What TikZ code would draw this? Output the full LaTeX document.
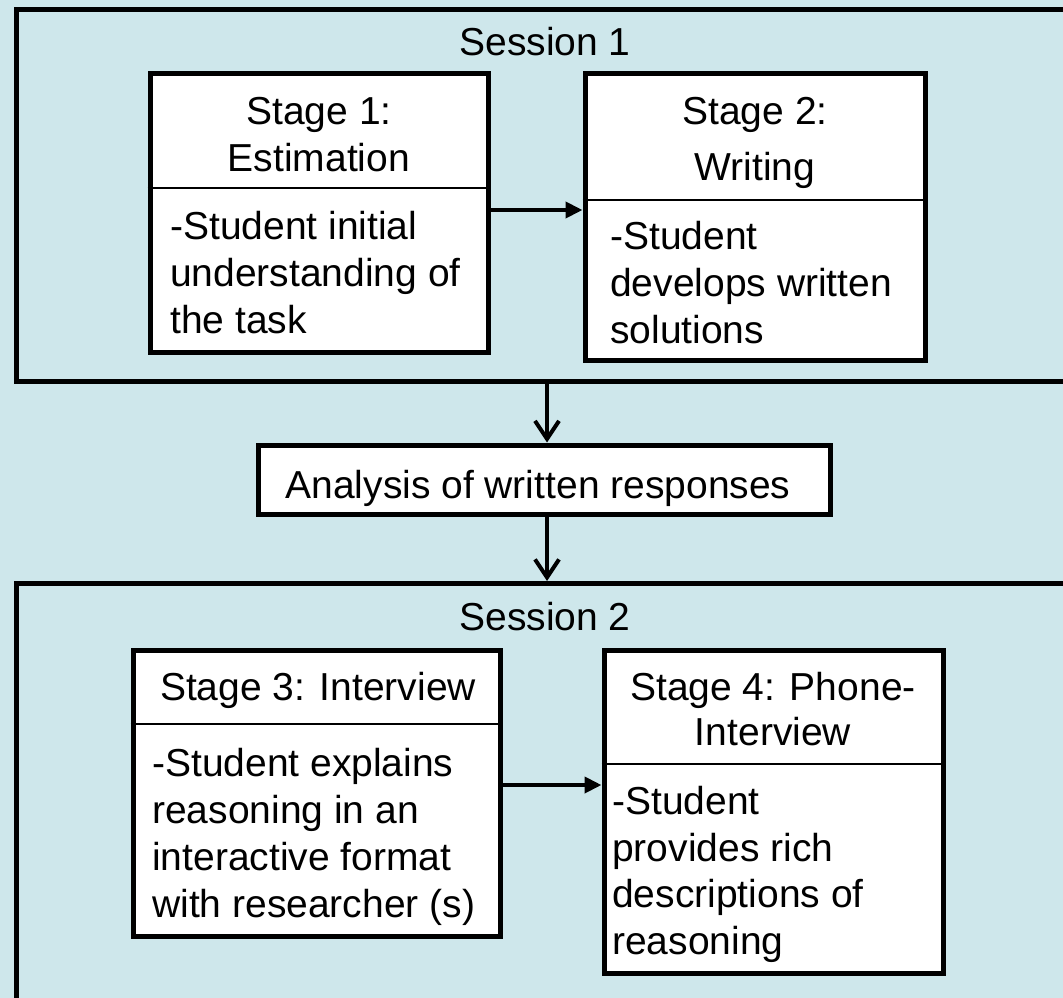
\documentclass[tikz,border=0pt]{standalone}
\usepackage{fontspec}
\setmainfont{Liberation Sans}
\usetikzlibrary{arrows.meta}
\definecolor{bgblue}{RGB}{206,231,235}
\tikzset{
  frame/.style={draw=black, line width=5pt, inner sep=0pt, anchor=north west},
  stagebox/.style={draw=black, fill=white, line width=5pt, inner sep=0pt},
  divider/.style={draw=black, line width=2pt},
  txt/.style={inner sep=0pt, font=\fontsize{39}{47}\selectfont},
  ltxt/.style={txt, anchor=base west},
  ctxt/.style={txt, anchor=base},
  harrow/.style={line width=4pt, -{Triangle[length=17pt,width=16pt]}},
  varrow/.style={line width=4pt, -{Straight Barb[length=18pt,width=24pt,line width=4pt]}}
}
\begin{document}
\begin{tikzpicture}[x=1pt,y=-1pt]
\useasboundingbox (0,0) rectangle (1063,998);
\clip (0,0) rectangle (1063,998);
\fill[bgblue] (0,0) rectangle (1063,998);

% session frames (extend past right / bottom edges)
\node[frame, minimum width=1080pt, minimum height=372pt] (sess1) at (14,7) {};
\node[frame, minimum width=1080pt, minimum height=440pt] (sess2) at (14,581) {};
\node[ctxt] (sess1lbl) at (545,56) {Session 1};
\node[ctxt] (sess2lbl) at (545,630) {Session 2};

% Stage 1
\node[stagebox, minimum width=338pt, minimum height=278pt] (s1) at (319,213) {};
\draw[divider] (s1.west |- 0,188) -- (s1.east |- 0,188);
\node[ctxt] (s1t1) at (319,124) {Stage 1:};
\node[ctxt] (s1t2) at (319,171) {Estimation};
\node[ltxt] (s1b1) at (170,239) {-Student initial};
\node[ltxt] (s1b2) at (170,286) {understanding of};
\node[ltxt] (s1b3) at (170,333) {the task};

% Stage 2
\node[stagebox, minimum width=340pt, minimum height=286pt] (s2) at (755,217) {};
\draw[divider] (s2.west |- 0,200) -- (s2.east |- 0,200);
\node[ctxt] (s2t1) at (755,124) {Stage 2:};
\node[ctxt] (s2t2) at (755,180) {Writing};
\node[ltxt] (s2b1) at (610,249) {-Student};
\node[ltxt] (s2b2) at (610,296) {develops written};
\node[ltxt] (s2b3) at (610,343) {solutions};

\draw[harrow] (s1.east |- 0,210) -- (s2.west |- 0,210);

% Analysis
\node[stagebox, minimum width=572pt, minimum height=69pt] (ana) at (544,479.5) {};
\node[ctxt] (anat) at (538,498) {Analysis of written responses};

\draw[varrow] (sess1.south -| 547,0) -- (ana.north -| 547,0);
\draw[varrow] (ana.south -| 547,0) -- (sess2.north -| 547,0);

% Stage 3
\node[stagebox, minimum width=367pt, minimum height=286pt] (s3) at (316.5,793) {};
\draw[divider] (s3.west |- 0,724) -- (s3.east |- 0,724);
\node[ctxt] (s3t1) at (318,700) {Stage 3: Interview};
\node[ltxt] (s3b1) at (152,776) {-Student explains};
\node[ltxt] (s3b2) at (152,823) {reasoning in an};
\node[ltxt] (s3b3) at (152,870) {interactive format};
\node[ltxt] (s3b4) at (152,917) {with researcher (s)};

% Stage 4
\node[stagebox, minimum width=339pt, minimum height=323pt] (s4) at (773.5,811.5) {};
\draw[divider] (s4.west |- 0,764) -- (s4.east |- 0,764);
\node[ctxt] (s4t1) at (773,700) {Stage 4: Phone-};
\node[ctxt] (s4t2) at (773,745) {Interview};
\node[ltxt] (s4b1) at (612,814) {-Student};
\node[ltxt] (s4b2) at (612,861) {provides rich};
\node[ltxt] (s4b3) at (612,907) {descriptions of};
\node[ltxt] (s4b4) at (612,954) {reasoning};

\draw[harrow] (s3.east |- 0,785) -- (s4.west |- 0,785);
\end{tikzpicture}
\end{document}
